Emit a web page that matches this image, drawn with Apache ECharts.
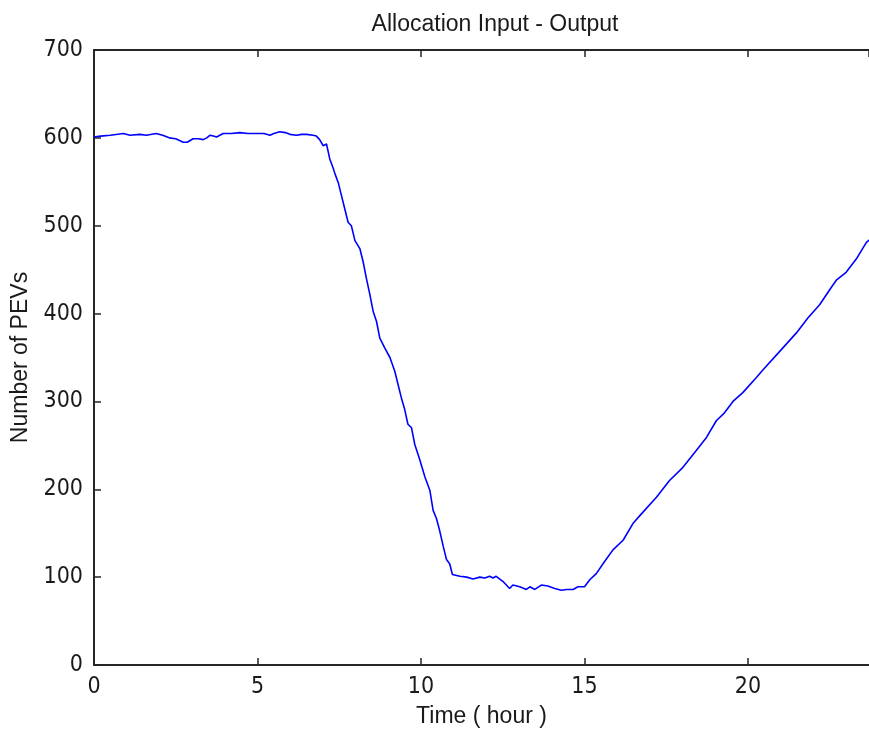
<!DOCTYPE html>
<html>
<head>
<meta charset="utf-8">
<script src="https://cdn.jsdelivr.net/npm/echarts@6/dist/echarts.min.js"></script>
<style>html,body{margin:0;padding:0;background:#fff;}#c{width:869px;height:733px;}</style>
</head>
<body>
<div id="c"></div>
<script>
const hours = [0,0.2,0.5,0.9,1.1,1.4,1.6,1.9,2.1,2.3,2.5,2.73,2.85,3.03,3.2,3.34,3.45,3.55,3.65,3.75,3.95,4.2,4.46,4.7,4.97,5.2,5.38,5.5,5.68,5.85,5.99,6.19,6.35,6.5,6.7,6.8,6.9,7.01,7.06,7.11,7.16,7.21,7.31,7.37,7.47,7.57,7.67,7.77,7.87,7.98,8.13,8.23,8.33,8.44,8.54,8.64,8.74,8.89,9.05,9.2,9.3,9.4,9.5,9.6,9.71,9.81,9.96,10.12,10.27,10.37,10.47,10.57,10.68,10.78,10.88,10.96,11.19,11.4,11.59,11.8,11.95,12.1,12.2,12.3,12.51,12.71,12.81,13.02,13.22,13.33,13.48,13.68,13.88,14.09,14.29,14.45,14.65,14.8,15.0,15.16,15.36,15.62,15.87,16.18,16.48,16.74,17.2,17.6,18.01,18.37,18.73,19.03,19.28,19.54,19.84,20.25,20.46,20.97,21.48,21.83,22.19,22.55,22.7,23.0,23.31,23.62,23.75];
const pevs = [601,602,603,605,603,604,603,605,603,600,599,595,595,599,599,598,600,603,602,601,605,605,606,605,605,605,603,605,607,606,604,603,604,604,603,602,598,591,592,593,592,576,566,559,549,534,519,504,500,483,474,459,440,421,402,391,372,361,350,334,319,304,291,274,270,251,234,214,199,176,167,153,135,120,115,103,101,100,98,100,99,101,99,101,95,87,91,89,86,89,86,91,90,87,85,86,86,89,89,97,104,118,131,142,161,172,191,210,225,242,259,278,287,300,310,327,336,357,378,395,410,430,438,447,462,481,485];
const xTicks = [0,5,10,15,20];
const yTicks = [0,100,200,300,400,500,600,700];

const seriesData = hours.map((h,i)=>[h,pevs[i]]);
const FONT = '"Liberation Sans Narrow", "DejaVu Sans Condensed", "Liberation Sans", Arial, sans-serif';
const TFONT = '"Liberation Sans", Arial, sans-serif';
const axisColor = '#262626';

const chart = echarts.init(document.getElementById('c'), null, {renderer:'canvas'});
chart.setOption({
  animation:false,
  backgroundColor:'#ffffff',
  title:{text:'Allocation Input - Output',left:490,textAlign:'center',top:8,
    textStyle:{fontFamily:TFONT,fontSize:23,fontWeight:'normal',color:'#1a1a1a'}},
  grid:{left:94,top:50,right:0,height:619,containLabel:false},
  xAxis:[{
    type:'value',min:0,max:23.7,interval:5,position:'bottom',
    name:'Time ( hour )',nameLocation:'middle',nameGap:40,
    nameTextStyle:{fontFamily:TFONT,fontSize:23,color:'#1a1a1a'},
    axisLine:{show:true,onZero:false,lineStyle:{color:axisColor,width:2}},
    axisTick:{show:true,inside:true,length:7,lineStyle:{color:axisColor,width:1.5}},
    axisLabel:{fontFamily:FONT,fontSize:23,color:'#1a1a1a',margin:11,showMaxLabel:false,
      formatter:v=>xTicks.includes(v)?String(v):''},
    splitLine:{show:false}
  },{
    type:'value',min:0,max:23.7,interval:5,position:'top',
    axisLine:{show:true,onZero:false,lineStyle:{color:axisColor,width:2}},
    axisTick:{show:true,inside:true,length:7,lineStyle:{color:axisColor,width:1.5}},
    axisLabel:{show:false},splitLine:{show:false}
  }],
  yAxis:{
    type:'value',min:0,max:700,interval:100,
    name:'Number of PEVs',nameLocation:'middle',nameGap:60,nameRotate:90,
    nameTextStyle:{fontFamily:TFONT,fontSize:23,color:'#1a1a1a'},
    axisLine:{show:true,onZero:false,lineStyle:{color:axisColor,width:2}},
    axisTick:{show:true,inside:true,length:7,lineStyle:{color:axisColor,width:1.5}},
    axisLabel:{fontFamily:FONT,fontSize:23,color:'#1a1a1a',margin:11,
      formatter:v=>yTicks.includes(v)?String(v):''},
    splitLine:{show:false}
  },
  series:[{
    type:'line',xAxisIndex:0,data:seriesData,showSymbol:false,symbol:'none',
    lineStyle:{color:'#0000ff',width:1.6},clip:true
  }]
});
</script>
</body>
</html>
